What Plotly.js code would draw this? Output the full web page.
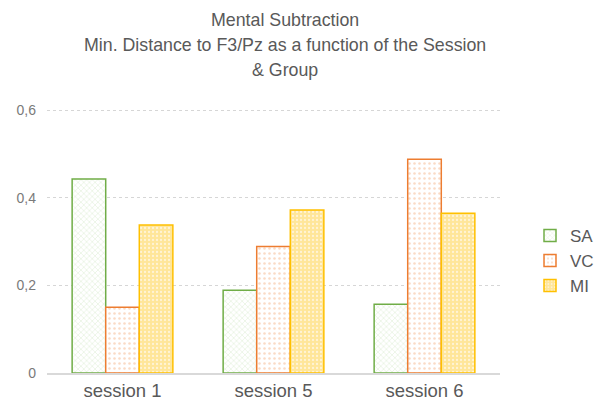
<!DOCTYPE html>
<html><head><meta charset="utf-8">
<script src="https://cdn.plot.ly/plotly-3.0.1.min.js"></script>
<style>html,body{margin:0;padding:0;background:#fff}</style>
</head><body>
<div id="chart" style="width:600px;height:405px"></div>
<script>
const categories = ["session 1", "session 5", "session 6"];
const seriesNames = ["SA", "VC", "MI"];
const saValues = [0.443, 0.189, 0.157];
const vcValues = [0.150, 0.289, 0.488];
const miValues = [0.338, 0.372, 0.365];
const yTickVals = [0, 0.2, 0.4, 0.6];
const yTickText = ["0", "0,2", "0,4", "0,6"];
const titleLines = ["Mental Subtraction", "Min. Distance to F3/Pz as a function of the Session", "& Group"];

const font = "Liberation Sans, Arial, sans-serif";
const styles = [
  {line: "#70AD47", bg: "#ffffff", fg: "#D5E8C8", shape: "x", size: 4, sol: 0.2},
  {line: "#ED7D31", bg: "#ffffff", fg: "#FADBC6", shape: ".", size: 5, sol: 0.2},
  {line: "#FFC000", bg: "#FFE699", fg: "#FFF4D6", shape: ".", size: 4, sol: 0.25}
];
const values = [saValues, vcValues, miValues];
const traces = values.map((v, i) => ({
  type: "bar", x: categories, y: v, name: seriesNames[i],
  marker: {color: styles[i].bg, line: {color: styles[i].line, width: 1.5},
    pattern: {shape: styles[i].shape, fgcolor: styles[i].fg, bgcolor: styles[i].bg,
      size: styles[i].size, solidity: styles[i].sol, fillmode: "replace"}}
}));
const titleY = [1.322, 1.228, 1.135];
const annotations = titleLines.map((t, i) => ({
  text: t, xref: "paper", yref: "paper", x: 0.525, y: titleY[i], xanchor: "center", yanchor: "middle",
  showarrow: false, font: {size: 17.8, color: "#595959", family: font}
}));
const layout = {
  width: 600, height: 405,
  margin: {l: 47, r: 100, t: 106, b: 32},
  paper_bgcolor: "#fff", plot_bgcolor: "#fff",
  font: {family: font, color: "#595959"},
  annotations: annotations,
  barmode: "group", bargap: 0.333, bargroupgap: 0,
  xaxis: {showgrid: false, showline: true, linecolor: "#d9d9d9", linewidth: 1.5, ticks: "",
    tickfont: {size: 18.5, color: "#595959"}},
  yaxis: {range: [0, 0.6097], tickvals: yTickVals, ticktext: yTickText,
    showgrid: true, gridcolor: "#d6d6d6", griddash: "dot", gridwidth: 1, zeroline: false,
    showline: false, tickfont: {size: 14, color: "#7a7a7a"}, ticklabelstandoff: 10},
  legend: {xref: "container", x: 530 / 600, xanchor: "left", y: 0.42, yanchor: "middle",
    font: {size: 17, color: "#595959"}, itemwidth: 30, traceorder: "normal"},
  showlegend: true
};
Plotly.newPlot("chart", traces, layout, {displayModeBar: false, staticPlot: true});
</script>
</body></html>
